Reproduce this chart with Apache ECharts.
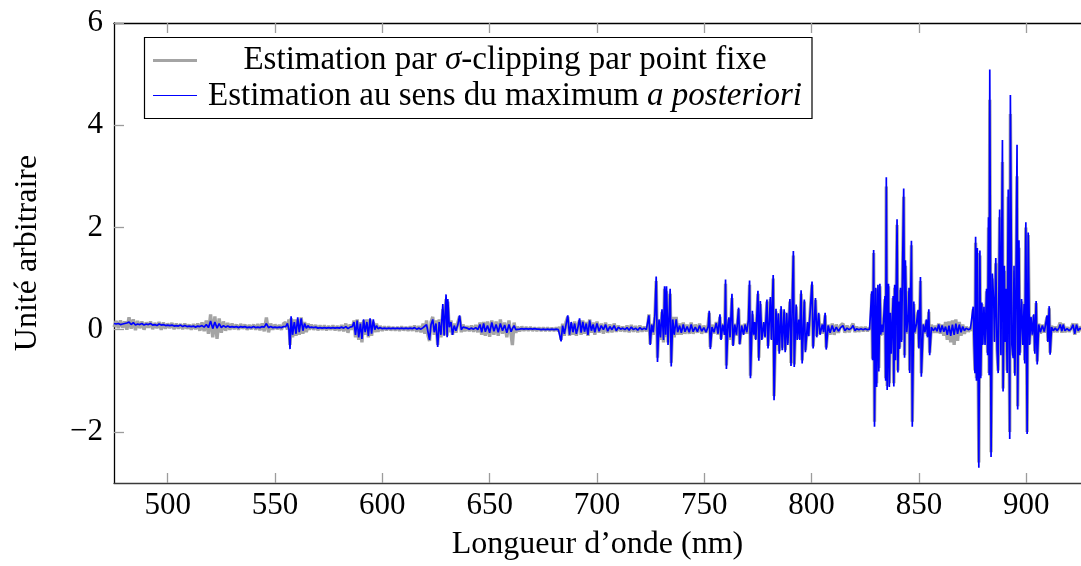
<!DOCTYPE html>
<html>
<head>
<meta charset="utf-8">
<script src="https://cdn.jsdelivr.net/npm/echarts@6/dist/echarts.min.js"></script>
<style>
html,body{margin:0;padding:0;background:#fff;}
#chart{width:1081px;height:566px;}
</style>
</head>
<body>
<div id="chart"></div>
<script>
// Wavelength samples (nm)
const wavelengths = [
475,476,477,478,479,480,481,482,483,484,485,486,487,488,489,490,491,492,493,494,495,496,497,498,499,500,501,502,503,504,505,506,507,508,509,510,511,512,513,514,515,516,517,518,519,520,521,522,523,524,525,526,527,528,529,530,531,532,533,534,535,536,537,538,539,540,541,542,543,544,545,546,547,548,549,550,551,552,553,554,
555,555.8,556.5,557.0,557.5,558.2,559.0,559.8,560.6,561.3,562.2,563.0,563.8,564.6,565.5,
566,567,568,569,570,571,572,573,574,575,576,577,578,579,580,581,582,583,584,585,
586,586.8,587.5,588.3,589.0,589.8,590.5,591.3,592.0,592.8,593.5,594.3,595.0,595.8,596.5,597.3,
598,599,600,601,602,603,604,605,606,607,608,609,610,611,612,613,614,615,616,617,618,
619,619.8,620.6,621.3,622.0,622.7,623.5,624.2,625.0,625.8,626.5,627.3,628.2,628.8,629.7,630.2,630.5,631.2,632.0,632.7,633.5,634.3,635.2,636.0,636.8,637.6,
638.5,639.5,640.5,641.5,642.5,643.5,644.5,
645.5,646.3,647.2,648,649,650,651,652,653,654,655,656,657,658,659,660,660.6,661.4,662.2,
663,664,665,666,667,668,669,670,671,672,673,674,675,676,677,678,679,680,681,682,
682.6,683.3,684.0,684.8,685.6,686.4,687.2,688.0,688.8,689.6,690.4,691.2,691.9,692.6,693.4,694.2,695.0,695.8,696.6,697.4,698.2,699.0,700.0,701.0,702.0,703,704,705,706,707,708,709,710,
711,712,713,714,715,716,717,718,719,720,721,722,723,
723.6,724.2,724.8,725.5,726.2,727.0,727.6,728.2,728.9,729.6,730.3,731.0,731.5,732.0,732.4,733.1,734.1,734.6,735.3,736.0,736.9,737.6,
738.5,739.3,740.2,741.0,742.0,743.0,743.9,744.8,745.8,746.8,747.8,748.8,749.8,750.8,751.8,
752.3,752.8,753.6,754.5,755.6,756.4,757.3,757.8,758.6,759.5,759.9,760.3,761.0,761.5,762.0,762.9,763.4,764.2,765.0,766.0,766.5,767.4,768.3,769.0,769.8,770.6,771.1,771.5,772.4,773.0,773.5,774.0,775.0,775.4,776.1,776.8,777.7,778.3,779.2,779.7,780.8,781.3,782.1,782.5,783.4,783.9,784.5,784.9,785.8,786.3,787.2,787.7,788.4,788.9,789.9,790.4,791.5,791.9,792.8,793.3,794.0,794.5,795.1,795.6,796.6,797.1,798.1,798.6,800.2,800.7,801.8,802.4,803.3,803.9,805.0,805.6,806.3,806.8,
807.7,808.6,809.6,810.5,811.5,812.5,813.5,814.6,815.5,816.5,817.5,818.5,819.3,820.2,821,822,823,824,825,826,827,827.6,
828.0,828.4,828.9,829.3,829.9,830.3,830.9,831.3,831.8,832.2,832.7,833.2,834.2,834.5,834.8,835.2,835.8,836.2,836.7,837.1,838.0,838.3,838.7,839.1,839.8,840.2,840.7,841.0,841.4,841.9,842.9,843.3,843.7,844.3,845.0,845.4,845.7,846.5,846.9,847.6,848.0,848.8,849.6,850.0,850.7,851.1,852.0,852.8,853.5,854.0,854.6,855.0,
855.8,856.7,857.6,858.4,859.2,860.0,860.8,861.6,862.4,863.2,864.0,864.8,865.6,866.4,867.2,868.0,868.8,869.6,870.4,871.2,872,873,874,874.8,
875.3,875.7,876.1,876.4,876.8,877.2,877.9,878.4,878.8,879.3,879.7,880.3,880.8,881.5,882.0,882.4,882.7,883.0,883.6,884.2,884.9,885.2,885.8,886.4,886.9,887.6,888.2,888.9,889.2,889.8,890.1,890.6,891.1,891.6,892.3,892.6,893.3,893.9,894.3,894.7,895.2,895.7,896.0,896.6,897.0,897.8,898.4,899.0,899.3,899.8,900.4,900.9,901.5,902.2,902.8,903.5,904.0,904.6,905.1,905.8,906.6,907.5,908.4,909.2,909.7,910.1,910.7,911.1,911.8,912.6,913.5,914.4,915.3,915.8,916.6,917.2,918,919,920,921,921.8,922.6,923.4,924.2,925,926
];

// Estimation au sens du maximum a posteriori (blue)
const mapEstimate = [
0.12,0.11,0.12,0.10,0.11,0.12,0.13,0.15,0.10,0.14,0.09,0.11,0.10,0.12,0.09,0.11,0.10,0.12,0.09,0.10,0.08,0.11,0.09,0.10,0.08,0.09,0.08,0.09,0.07,0.08,0.07,0.09,0.06,0.08,0.06,0.07,0.06,0.07,0.05,0.07,0.06,0.08,0.05,0.10,0.04,0.17,0.02,0.15,0.03,0.12,0.04,0.08,0.05,0.07,0.05,0.06,0.05,0.06,0.04,0.06,0.05,0.06,0.04,0.05,0.04,0.06,0.04,0.05,0.04,0.06,0.05,0.12,0.04,0.06,0.04,0.05,0.04,0.05,0.04,0.06,
0.06,0.12,0.00,-0.38,0.26,-0.10,0.15,-0.08,0.24,-0.05,0.22,-0.02,0.12,0.03,0.08,
0.04,0.05,0.04,0.05,0.03,0.04,0.03,0.04,0.03,0.04,0.03,0.04,0.03,0.04,0.03,0.05,0.03,0.06,0.02,0.05,
0.06,0.15,-0.10,0.18,-0.15,0.12,-0.18,0.20,-0.05,0.15,-0.12,0.22,-0.08,0.20,0.00,0.08,
0.02,0.04,0.02,0.03,0.02,0.03,0.02,0.03,0.02,0.03,0.02,0.03,0.02,0.03,0.02,0.03,0.02,0.04,0.01,0.03,0.01,
0.04,0.02,0.10,-0.05,-0.20,0.10,0.20,-0.05,0.12,-0.34,0.15,-0.10,0.50,-0.12,0.69,-0.15,0.60,0.05,0.15,-0.10,0.08,-0.02,0.10,0.28,0.00,0.05,
0.02,0.03,0.01,0.03,0.01,0.04,0.00,
0.10,-0.05,0.12,-0.04,0.08,-0.06,0.14,-0.03,0.10,-0.05,0.12,-0.02,0.09,-0.06,0.10,-0.04,0.02,0.08,0.00,
0.02,0.01,0.02,0.01,0.02,0.01,0.02,0.01,0.02,0.01,0.01,0.00,0.01,0.00,0.01,0.00,0.01,0.00,0.01,0.00,
0.00,-0.23,0.08,-0.08,0.10,0.28,-0.10,0.15,-0.05,0.12,-0.08,0.06,0.22,-0.06,0.15,-0.04,0.12,-0.10,0.18,-0.02,0.10,-0.05,0.12,-0.03,0.08,0.00,0.10,-0.03,0.06,0.00,0.08,-0.02,0.05,
0.01,0.03,0.00,0.04,-0.01,0.05,0.00,0.03,-0.01,0.04,0.00,0.03,0.00,
0.02,0.28,-0.30,0.10,-0.05,0.30,1.04,-0.63,0.20,-0.15,0.40,-0.20,0.85,-0.10,0.85,-0.30,0.80,-0.72,0.20,-0.10,0.20,-0.05,
0.08,-0.06,0.10,-0.04,0.06,-0.05,0.10,-0.04,0.05,-0.04,0.08,-0.03,0.04,-0.05,0.06,
0.37,-0.38,0.05,-0.05,0.13,-0.08,0.30,-0.20,0.10,-0.10,0.98,-0.77,0.10,0.24,-0.15,0.70,-0.32,0.10,-0.10,0.43,-0.29,0.08,-0.10,0.10,-0.05,0.20,0.96,-0.95,0.37,-0.10,0.15,-0.20,0.76,-0.61,0.56,-0.20,0.15,-0.15,0.59,-0.37,0.64,-0.20,1.07,-1.38,0.41,-0.30,0.32,-0.47,0.46,-0.40,0.40,-0.44,0.33,-0.30,0.60,-0.71,1.54,-0.73,0.49,-0.20,0.20,-0.20,0.77,-0.66,0.59,-0.44,0.15,-0.13,0.94,-0.37,0.62,-0.15,0.33,-0.10,0.10,-0.05,0.33,-0.39,
0.08,-0.06,0.08,-0.04,0.05,-0.03,0.04,0.08,-0.02,0.03,0.00,0.03,0.08,-0.02,0.02,0.00,0.02,0.00,0.02,0.00,0.01,0.00,
0.75,-0.60,1.56,-1.90,0.82,-1.12,0.88,-0.82,0.90,-0.10,0.10,-0.05,0.66,-1.00,2.98,-1.18,0.90,-1.12,0.33,-0.47,0.66,-1.11,0.88,-0.60,2.16,-0.84,0.55,-0.38,0.82,-0.24,2.76,-0.55,1.36,-0.05,0.30,0.82,-0.85,1.74,-1.90,0.55,-0.05,0.10,0.39,-0.37,1.03,-0.92,0.10,-0.05,0.20,-0.15,0.40,-0.50,
0.05,-0.02,0.04,-0.03,0.10,-0.05,0.08,-0.04,0.06,-0.10,0.08,-0.12,0.10,-0.10,0.12,-0.08,0.10,-0.05,0.06,-0.02,0.03,0.00,0.02,0.00,
0.45,-0.30,-0.85,1.82,-1.00,1.60,-2.70,1.55,-0.95,0.53,-0.30,0.45,-0.30,0.80,-0.50,2.20,-0.89,5.09,-2.49,1.10,0.46,-0.24,1.40,-0.40,-0.85,2.35,-0.50,3.71,-1.21,1.25,-0.24,0.80,-0.85,2.74,-2.14,4.59,-0.30,-0.56,1.25,-0.90,0.80,3.62,-1.56,1.75,-0.50,0.60,-0.30,0.50,-0.66,2.10,-2.04,1.90,-0.30,0.25,-0.10,0.30,-0.47,0.56,-0.68,0.10,-0.05,0.08,-0.04,0.15,0.28,-0.24,0.46,-0.49,0.05,-0.02,0.03,-0.02,0.04,0.10,-0.03,0.10,-0.02,0.02,-0.02,0.02,0.10,-0.08,0.10,-0.02,0.03,0.00
];

// Estimation par sigma-clipping par point fixe (grey)
const clipEstimate = [
0.05,0.17,0.03,0.18,0.04,0.16,0.00,0.24,0.02,0.20,-0.01,0.17,0.03,0.16,0.00,0.14,0.04,0.16,0.01,0.13,0.03,0.15,0.00,0.14,0.02,0.12,0.03,0.13,0.01,0.12,0.02,0.11,0.01,0.12,0.02,0.10,0.00,0.11,0.01,0.12,-0.02,0.14,-0.03,0.18,-0.08,0.30,-0.15,0.26,-0.18,0.22,-0.06,0.16,-0.02,0.13,0.00,0.12,0.01,0.10,0.00,0.11,0.02,0.10,0.00,0.09,0.01,0.10,0.00,0.11,-0.01,0.12,-0.03,0.24,-0.05,0.12,0.00,0.10,0.01,0.09,0.00,0.12,
0.14,0.00,0.20,-0.30,0.22,-0.15,0.20,-0.12,0.20,-0.10,0.24,-0.08,0.15,-0.05,0.12,
0.00,0.10,0.00,0.09,-0.01,0.08,0.00,0.08,-0.01,0.07,0.00,0.08,-0.01,0.07,-0.02,0.09,-0.03,0.12,-0.06,0.10,
0.00,0.18,-0.15,0.20,-0.20,0.15,-0.25,0.18,-0.10,0.20,-0.15,0.20,-0.12,0.15,-0.05,0.12,
-0.04,0.07,-0.02,0.06,-0.01,0.06,-0.01,0.05,-0.01,0.05,-0.02,0.06,-0.01,0.05,-0.02,0.06,-0.02,0.08,-0.04,0.07,-0.05,
0.12,-0.08,0.18,-0.12,-0.22,0.15,0.25,-0.10,0.18,-0.30,0.20,-0.15,0.40,-0.10,0.60,-0.12,0.55,-0.05,0.18,-0.10,0.12,-0.06,0.14,0.26,-0.05,0.10,
-0.03,0.07,-0.03,0.08,-0.04,0.09,-0.05,
0.14,-0.10,0.15,-0.12,0.16,-0.14,0.18,-0.10,0.16,-0.12,0.20,-0.08,0.14,-0.15,0.18,-0.10,-0.30,0.14,-0.06,
0.06,-0.03,0.06,-0.02,0.05,-0.02,0.05,-0.02,0.04,-0.02,0.04,-0.02,0.04,-0.02,0.04,-0.02,0.03,-0.02,0.04,-0.03,
0.06,-0.20,0.12,-0.12,0.15,0.25,-0.12,0.12,-0.10,0.16,-0.12,0.10,0.18,-0.10,0.18,-0.08,0.15,-0.12,0.20,-0.06,0.14,-0.10,0.16,-0.06,0.12,-0.08,0.14,-0.06,0.10,-0.05,0.12,-0.04,0.08,
-0.03,0.06,-0.04,0.08,-0.05,0.09,-0.04,0.07,-0.05,0.08,-0.04,0.06,-0.03,
0.05,0.30,-0.28,0.12,-0.10,0.25,0.95,-0.55,0.15,-0.20,0.35,-0.25,0.80,-0.15,0.75,-0.25,0.70,-0.65,0.25,-0.15,0.25,-0.10,
0.12,-0.10,0.14,-0.08,0.10,-0.08,0.14,-0.08,0.10,-0.06,0.12,-0.08,0.08,-0.06,0.10,
0.33,-0.34,0.10,-0.08,0.15,-0.10,0.25,-0.18,0.12,-0.10,0.90,-0.70,0.12,0.20,-0.20,0.62,-0.30,0.12,-0.12,0.40,-0.28,0.10,-0.08,0.12,-0.08,0.18,0.88,-0.90,0.30,-0.12,0.12,-0.18,0.70,-0.55,0.50,-0.18,0.12,-0.12,0.55,-0.32,0.60,-0.18,1.00,-1.30,0.36,-0.28,0.30,-0.42,0.40,-0.35,0.35,-0.40,0.30,-0.26,0.55,-0.65,1.45,-0.68,0.45,-0.18,0.18,-0.18,0.70,-0.60,0.55,-0.40,0.12,-0.12,0.88,-0.33,0.58,-0.12,0.30,-0.08,0.12,-0.08,0.28,-0.35,
0.10,-0.10,0.12,-0.10,0.10,-0.06,0.08,0.12,-0.06,0.08,-0.05,0.06,0.12,-0.05,0.06,-0.04,0.05,-0.03,0.05,-0.03,0.04,0.00,
0.70,-0.57,1.50,-1.80,0.78,-1.05,0.80,-0.75,0.85,-0.12,0.12,-0.10,0.60,-0.95,2.80,-1.10,0.85,-1.05,0.30,-0.42,0.62,-1.05,0.82,-0.55,2.05,-0.80,0.50,-0.35,0.78,-0.20,2.60,-0.50,1.25,-0.08,0.25,0.75,-0.80,1.65,-1.80,0.50,-0.08,0.12,0.35,-0.35,0.95,-0.85,0.12,-0.08,0.18,-0.12,0.35,-0.45,
0.10,-0.06,0.08,-0.06,0.12,-0.08,0.10,-0.12,0.15,-0.20,0.16,-0.25,0.18,-0.30,0.20,-0.22,0.15,-0.12,0.10,-0.08,0.06,-0.04,0.05,-0.02,
0.40,-0.28,-0.80,1.70,-0.95,1.50,-2.60,1.45,-0.90,0.50,-0.28,0.40,-0.25,0.75,-0.45,2.00,-0.85,4.50,-2.40,1.00,0.42,-0.22,1.30,-0.38,-0.80,2.20,-0.45,3.28,-1.15,1.15,-0.22,0.75,-0.80,2.60,-2.00,4.22,-0.28,-0.50,1.15,-0.85,0.75,3.00,-1.50,1.60,-0.45,0.55,-0.28,0.45,-0.60,2.00,-2.00,1.85,-0.28,0.22,-0.12,0.28,-0.42,0.52,-0.62,0.12,-0.08,0.10,-0.06,0.15,0.25,-0.22,0.42,-0.45,0.08,-0.05,0.06,-0.05,0.08,0.14,-0.06,0.12,-0.05,0.05,-0.04,0.05,0.12,-0.10,0.12,-0.05,0.06,-0.02
];

const xTickValues = [500, 550, 600, 650, 700, 750, 800, 850, 900];
const yTickValues = [-2, 0, 2, 4, 6];

const FONT = '"Liberation Serif", "Times New Roman", serif';

const n = Math.min(wavelengths.length, mapEstimate.length, clipEstimate.length);
const mapData = [], clipData = [];
for (let i = 0; i < n; i++) {
  mapData.push([wavelengths[i], mapEstimate[i]]);
  clipData.push([wavelengths[i], clipEstimate[i]]);
}

const chart = echarts.init(document.getElementById('chart'), null, {renderer: 'canvas'});
const tickStyle = {show: true, inside: true, length: 10, lineStyle: {color: '#9c9c9c', width: 1.3}};
chart.setOption({
  animation: false,
  backgroundColor: '#ffffff',
  grid: {left: 114, right: 0, top: 23, bottom: 76, containLabel: false},
  xAxis: [{
    type: 'value', min: 475, max: 925.5, position: 'bottom',
    axisLine: {show: true, onZero: false, lineStyle: {color: '#3a3a3a', width: 1.3}},
    axisTick: Object.assign({customValues: xTickValues}, tickStyle),
    axisLabel: {customValues: xTickValues, fontFamily: FONT, fontSize: 31, color: '#000', margin: 7},
    splitLine: {show: false},
    name: 'Longueur d’onde (nm)', nameLocation: 'middle', nameGap: 46,
    nameTextStyle: {fontFamily: FONT, fontSize: 32, color: '#000'}
  }, {
    type: 'value', min: 475, max: 925.5, position: 'top',
    axisLine: {show: true, onZero: false, lineStyle: {color: '#000', width: 1.3}},
    axisTick: Object.assign({customValues: xTickValues}, tickStyle),
    axisLabel: {show: false},
    splitLine: {show: false}
  }],
  yAxis: [{
    type: 'value', min: -3, max: 6,
    axisLine: {show: true, onZero: false, lineStyle: {color: '#000', width: 1.3}},
    axisTick: Object.assign({customValues: yTickValues}, tickStyle),
    axisLabel: {customValues: yTickValues, fontFamily: FONT, fontSize: 31, color: '#000', margin: 11,
      formatter: v => String(v).replace('-', '\u2212')},
    splitLine: {show: false},
    name: 'Unité arbitraire', nameLocation: 'middle', nameGap: 70, nameRotate: 90,
    nameTextStyle: {fontFamily: FONT, fontSize: 32, color: '#000'}
  }],
  series: [{
    name: 'Estimation par σ-clipping par point fixe',
    type: 'line', data: clipData, showSymbol: false, symbol: 'none', sampling: null,
    lineStyle: {color: '#a4a4a4', width: 3.4}, z: 2, silent: true
  }, {
    name: 'Estimation au sens du maximum a posteriori',
    type: 'line', data: mapData, showSymbol: false, symbol: 'none', sampling: null,
    lineStyle: {color: '#0000ff', width: 1.7}, z: 3, silent: true
  }],
  graphic: [
    {type: 'rect', z: 100, shape: {x: 144.5, y: 37.5, width: 667.5, height: 81},
      style: {fill: '#fff', stroke: '#000', lineWidth: 1.2}},
    {type: 'line', z: 101, shape: {x1: 153, y1: 60.5, x2: 197, y2: 60.5},
      style: {stroke: '#a4a4a4', lineWidth: 3}},
    {type: 'line', z: 101, shape: {x1: 153, y1: 95.5, x2: 197, y2: 95.5},
      style: {stroke: '#0000ff', lineWidth: 1.2}},
    {type: 'text', z: 101, x: 505, y: 60,
      style: {text: '{n|Estimation par }{i|σ}{n|-clipping par point fixe}', align: 'center', verticalAlign: 'middle',
        rich: {n: {fontFamily: FONT, fontSize: 33, fill: '#000'}, i: {fontFamily: FONT, fontSize: 33, fontStyle: 'italic', fill: '#000'}}}},
    {type: 'text', z: 101, x: 505, y: 96,
      style: {text: '{n|Estimation au sens du maximum }{i|a posteriori}', align: 'center', verticalAlign: 'middle',
        rich: {n: {fontFamily: FONT, fontSize: 33, fill: '#000'}, i: {fontFamily: FONT, fontSize: 33, fontStyle: 'italic', fill: '#000'}}}}
  ]
});
</script>
</body>
</html>
